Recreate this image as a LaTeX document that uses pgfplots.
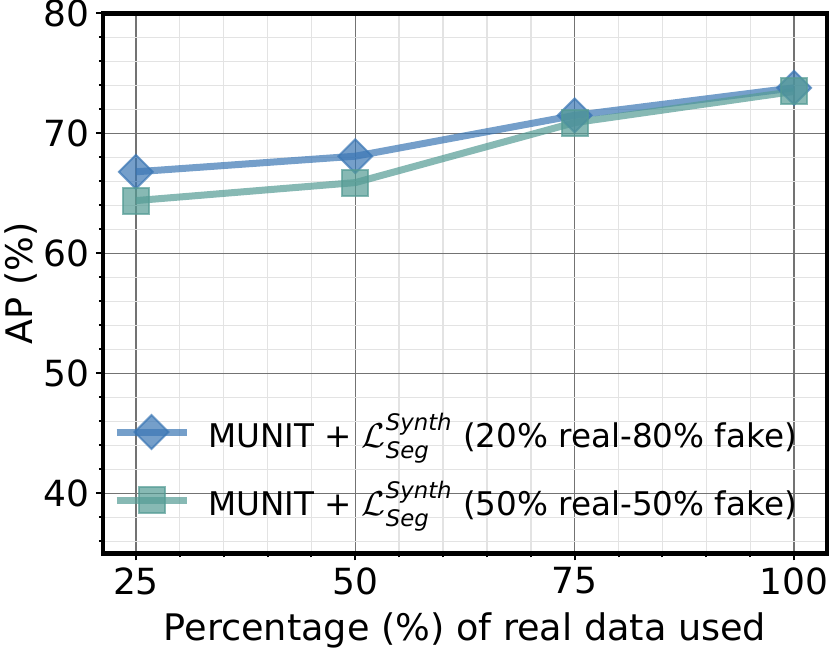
\documentclass[border=0pt]{standalone}
\usepackage{fontspec}
\setmainfont{DejaVu Sans}
\usepackage{amsmath}
\usepackage{pgfplots}
\pgfplotsset{compat=1.18}
\definecolor{cblue}{HTML}{3A76B4}
\definecolor{cteal}{HTML}{549B94}
\begin{document}
\begin{tikzpicture}
\begin{axis}[
  at={(0,0)}, anchor=south west,
  scale only axis, width=362pt, height=270pt,
  xmin=21.25, xmax=103.75, ymin=35, ymax=80,
  xtick={25,50,75,100}, ytick={40,50,...,80},
  minor xtick={30,35,...,100}, minor ytick={36,38,...,80},
  tick pos=left, tick align=outside,
  major tick length=3.5pt, minor tick length=2pt,
  every tick/.style={black, line width=1pt},
  grid=both,
  major grid style={draw=black!55, line width=0.7pt},
  minor grid style={draw=black!11, line width=0.7pt},
  axis line style={line width=2.2pt},
  tick label style={font=\fontsize{18}{21}\selectfont},
  label style={font=\fontsize{18.3}{22}\selectfont},
  xlabel style={yshift=-2pt},
  ylabel shift=-4pt,
  /pgf/number format/assume math mode=true,
  xlabel={Percentage (\%) of real data used},
  ylabel={AP (\%)},
  legend cell align=left,
  legend style={draw=none, fill=none, at={(0.005,0.049)}, anchor=south west,
    font=\fontsize{16.3}{19.5}\selectfont, row sep=11.5pt,
    /tikz/every odd column/.append style={column sep=7pt}},
  legend image code/.code={\draw[#1, mark repeat=2, mark phase=2] plot coordinates {(0pt,0pt) (17.5pt,0pt) (35pt,0pt)};},
]
\addplot[cblue, opacity=0.7, line width=3.5pt, mark=square*, mark size=6pt,
  mark options={rotate=45, line width=1pt, fill=cblue}]
  coordinates {(25,66.8) (50,68.1) (75,71.5) (100,73.8)};
\addlegendentry{MUNIT + $\mathcal{L}^{\text{\itshape Synth}}_{\text{\itshape Seg}}$ (20\% real-80\% fake)}
\addplot[cteal, opacity=0.7, line width=3.5pt, mark=square*, mark size=6.5pt,
  mark options={line width=1pt, fill=cteal}]
  coordinates {(25,64.4) (50,65.9) (75,70.9) (100,73.5)};
\addlegendentry{MUNIT + $\mathcal{L}^{\text{\itshape Synth}}_{\text{\itshape Seg}}$ (50\% real-50\% fake)}
\end{axis}
\pgfresetboundingbox
\path[use as bounding box] (-51.5pt,-47pt) rectangle (364pt,276.7pt);
\end{tikzpicture}
\end{document}
